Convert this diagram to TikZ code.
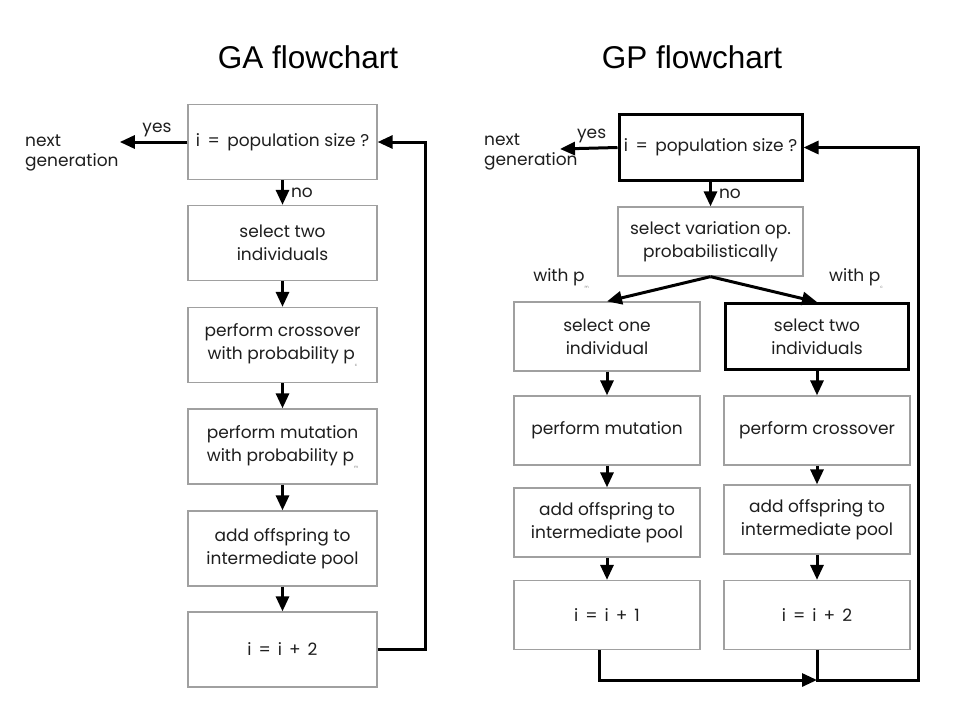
\documentclass[tikz,border=0pt]{standalone}
\usepackage{fontspec}
\setmainfont{Poppins}
\newfontfamily\titlefont{Liberation Sans}
\usetikzlibrary{arrows.meta}
\definecolor{boxgray}{HTML}{A0A0A0}
\definecolor{txt}{HTML}{1E1E1E}
\newcommand{\subp}[1]{\raisebox{-7pt}{\fontsize{4}{4}\selectfont\color{gray}#1}}
\newcommand{\opsep}{\hspace{7pt}}
\newcommand{\eqsep}{\hspace{7.5pt}}
\begin{document}
\begin{tikzpicture}[x=1pt,y=-1pt,
  box/.style={draw=boxgray, line width=1.3pt, minimum width=189pt, minimum height=75pt,
    align=center, text=txt, font=\fontsize{17}{23}\selectfont, inner sep=0pt},
  gpbox/.style={box, minimum width=186pt, minimum height=69pt},
  thickbox/.style={gpbox, draw=black, line width=3pt, minimum width=183pt, minimum height=66pt},
  arr/.style={line width=3pt, -{Triangle[length=15pt,width=13pt]}},
  lbl/.style={font=\fontsize{17}{20}\selectfont, inner sep=1pt, text=txt},
  ttl/.style={font=\titlefont\fontsize{31.5}{36}\selectfont}]
\useasboundingbox[fill=white] (0,0) rectangle (960,720);

% titles
\node[ttl] (t1) at (308,57) {GA flowchart};
\node[ttl] (t2) at (692,57) {GP flowchart};

% ---------- GA ----------
\node[box] (a1) at (282.5,142) {i\eqsep=\eqsep population size ?};
\node[box] (a2) at (282.5,243) {select two\\individuals};
\node[box] (a3) at (282.5,345) {perform crossover\\with probability p\subp{c}};
\node[box] (a4) at (282.5,446.5) {perform mutation\\with probability p\subp{m}};
\node[box] (a5) at (282.5,548.5) {add offspring to\\intermediate pool};
\node[box] (a6) at (282.5,649.5) {i\opsep=\opsep i\opsep+\opsep 2};

\node[lbl, align=left, anchor=west] (ang) at (24,153) {next\\generation};
\draw[arr] (a1.west) -- (a1.west -| ang.east) node[lbl, pos=0.45, above=3pt] (ay) {yes};
\draw[arr] (a1) -- (a2) node[lbl, midway, right=6pt] (an) {no};
\draw[arr] (a2) -- (a3);
\draw[arr] (a3) -- (a4);
\draw[arr] (a4) -- (a5);
\draw[arr] (a5) -- (a6);
\coordinate (ac) at (425,649.5);
\draw[arr] (a6.east) -- (ac) |- (a1.east);

% ---------- GP ----------
\node[thickbox] (g1) at (710.5,147.5) {i\eqsep=\eqsep population size ?};
\node[gpbox, minimum width=185pt] (g2) at (710.5,241.5) {select variation op.\\probabilistically};
\node[gpbox] (l3) at (607,336.5) {select one\\individual};
\node[thickbox] (r3) at (817,336.5) {select two\\individuals};
\node[gpbox] (l4) at (607,430.5) {perform mutation};
\node[gpbox] (r4) at (817,430.5) {perform crossover};
\node[gpbox] (l5) at (607,522.5) {add offspring to\\intermediate pool};
\node[gpbox] (r5) at (817,519.5) {add offspring to\\intermediate pool};
\node[gpbox] (l6) at (607,615) {i\opsep=\opsep i\opsep+\opsep 1};
\node[gpbox] (r6) at (817,615) {i\opsep=\opsep i\opsep+\opsep 2};

\node[lbl, align=left, anchor=west] (gng) at (483,152) {next\\generation};
\coordinate (gy) at (560,149);
\draw[arr] (g1.west) -- (gy) node[lbl, pos=0.45, above=3pt] (gyl) {yes};
\draw[arr] (g1) -- (g2) node[lbl, midway, right=6pt] (gn) {no};
\draw[arr] (g2.south) -- (l3.north);
\draw[arr] (g2.south) -- (r3.north);
\node[lbl] (wl) at (561,279) {with p\subp{m}};
\node[lbl] (wr) at (856,279) {with p\subp{c}};
\draw[arr] (l3) -- (l4);
\draw[arr] (l4) -- (l5);
\draw[arr] (l5) -- (l6);
\draw[arr] (r3) -- (r4);
\draw[arr] (r4) -- (r5);
\draw[arr] (r5) -- (r6);
\coordinate (gm) at (817,680);
\coordinate (gc) at (918,680);
\draw[arr] ([xshift=-8pt]l6.south) |- (gm);
\draw[arr] (r6.south) -- (gm) -- (gc) |- (g1.east);
\end{tikzpicture}
\end{document}
